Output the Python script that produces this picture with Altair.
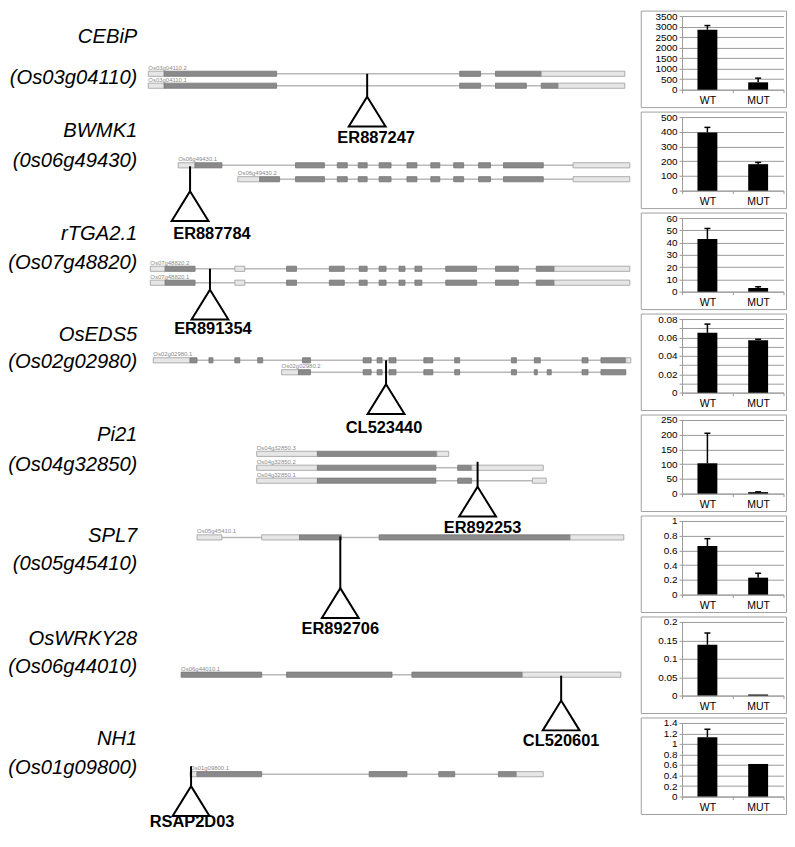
import altair as alt
import pandas as pd

FONT = "Liberation Sans"
GRID = "#9a9a9a"
BOX = "#a0a0a0"

# ---------------- gene names (left column) ----------------
gene_names = ["CEBiP", "BWMK1", "rTGA2.1", "OsEDS5", "Pi21", "SPL7", "OsWRKY28", "NH1"]
gene_loci = ["(Os03g04110)", "(0s06g49430)", "(Os07g48820)", "(Os02g02980)",
             "(Os04g32850)", "(0s05g45410)", "(Os06g44010)", "(Os01g09800)"]
name_y = [35, 130, 233, 335, 435, 537, 640, 741]
locus_y = [76, 160, 262, 362, 465, 565, 668, 770]
name_x = 137

# ---------------- transcripts (schematic gene models) ----------------
tx_label = ["Os03g04110.2", "Os03g04110.1",
            "Os06g49430.1", "Os06g49430.2",
            "Os07g48820.2", "Os07g48820.1",
            "Os02g02980.1", "Os02g02980.2",
            "Os04g32850.3", "Os04g32850.2", "Os04g32850.1",
            "Os05g45410.1",
            "Os06g44010.1",
            "Os01g09800.1"]
tx_y = [72, 84, 164, 178, 268, 282, 360, 372, 454, 468, 481, 538, 676, 776]
tx_start = [148, 148, 178, 238, 150, 150, 153, 282, 257, 257, 257, 197, 181, 190]
tx_end = [627, 627, 632, 632, 632, 632, 633, 628, 450, 545, 548, 626, 623, 545]

# exon segments per transcript: (start, end, kind)
tx_segments = [
    [(148, 164, "UTR"), (164, 277, "CDS"), (461, 482, "CDS"), (497, 543, "CDS"), (543, 627, "UTR")],
    [(148, 164, "UTR"), (164, 277, "CDS"), (461, 482, "CDS"), (497, 528, "CDS"), (543, 560, "CDS"), (560, 627, "UTR")],
    [(178, 195, "UTR"), (195, 222, "CDS"), (296, 325, "CDS"), (338, 348, "CDS"), (359, 368, "CDS"),
     (380, 392, "CDS"), (408, 418, "CDS"), (432, 441, "CDS"), (455, 465, "CDS"), (480, 492, "CDS"),
     (505, 545, "CDS"), (575, 632, "UTR")],
    [(238, 260, "UTR"), (260, 280, "CDS"), (296, 325, "CDS"), (338, 348, "CDS"), (359, 368, "CDS"),
     (380, 392, "CDS"), (408, 418, "CDS"), (432, 441, "CDS"), (455, 465, "CDS"), (480, 492, "CDS"),
     (505, 545, "CDS"), (575, 632, "UTR")],
    [(150, 165, "UTR"), (165, 195, "CDS"), (235, 245, "UTR"), (287, 297, "CDS"), (330, 345, "CDS"),
     (360, 368, "CDS"), (380, 387, "CDS"), (400, 406, "CDS"), (416, 423, "CDS"), (447, 478, "CDS"),
     (497, 520, "CDS"), (538, 556, "CDS"), (556, 632, "UTR")],
    [(150, 165, "UTR"), (165, 195, "CDS"), (235, 245, "UTR"), (287, 297, "CDS"), (330, 345, "CDS"),
     (360, 368, "CDS"), (380, 387, "CDS"), (400, 406, "CDS"), (416, 423, "CDS"), (447, 478, "CDS"),
     (497, 520, "CDS"), (538, 556, "CDS"), (556, 632, "UTR")],
    [(153, 190, "UTR"), (190, 197, "CDS"), (209, 213, "CDS"), (235, 240, "CDS"), (258, 263, "CDS"),
     (303, 311, "CDS"), (364, 372, "CDS"), (378, 383, "CDS"), (390, 397, "CDS"), (425, 434, "CDS"),
     (456, 461, "CDS"), (513, 518, "CDS"), (536, 542, "CDS"), (584, 590, "CDS"), (603, 628, "CDS"),
     (628, 633, "UTR")],
    [(282, 299, "UTR"), (299, 311, "CDS"), (364, 372, "CDS"), (378, 383, "CDS"), (390, 397, "CDS"),
     (425, 434, "CDS"), (456, 461, "CDS"), (513, 518, "CDS"), (536, 539, "CDS"), (549, 553, "CDS"),
     (584, 590, "CDS"), (603, 628, "CDS")],
    [(257, 318, "UTR"), (318, 438, "CDS"), (438, 450, "UTR")],
    [(257, 318, "UTR"), (318, 437, "CDS"), (459, 473, "CDS"), (473, 545, "UTR")],
    [(257, 318, "UTR"), (318, 437, "CDS"), (459, 473, "CDS"), (534, 548, "UTR")],
    [(197, 222, "UTR"), (262, 300, "UTR"), (300, 342, "CDS"), (380, 572, "CDS"), (572, 626, "UTR")],
    [(181, 262, "CDS"), (287, 393, "CDS"), (413, 524, "CDS"), (524, 623, "UTR")],
    [(190, 197, "UTR"), (197, 262, "CDS"), (370, 408, "CDS"), (440, 456, "CDS"), (500, 518, "CDS"),
     (518, 545, "UTR")],
]

# ---------------- insertion sites ----------------
ins_label = ["ER887247", "ER887784", "ER891354", "CL523440", "ER892253", "ER892706", "CL520601", "RSAP2D03"]
ins_x = [368, 190, 210, 387, 479, 341, 563, 191]
ins_top = [72, 165, 268, 360, 462, 537, 677, 768]
ins_apex = [95, 190, 289, 384, 487, 589, 702, 788]
lab_x = [377, 212, 213, 385, 484, 341, 563, 192]
lab_y = [137, 233, 329, 428, 529, 630, 743, 824]

# ---------------- expression bar charts (right column) ----------------
groups = ["WT", "MUT"]
wt_mean = [2850, 395, 43, 0.065, 103, 0.66, 0.138, 1.13]
wt_err = [200, 35, 8.5, 0.0095, 102, 0.10, 0.032, 0.15]
mut_mean = [350, 180, 3, 0.057, 5, 0.23, 0.003, 0.62]
mut_err = [200, 12, 1, 0.001, 1, 0.06, 0, 0]
y_ticks = [
    [0, 500, 1000, 1500, 2000, 2500, 3000, 3500],
    [0, 100, 200, 300, 400, 500],
    [0, 10, 20, 30, 40, 50, 60],
    [0, 0.01, 0.02, 0.03, 0.04, 0.05, 0.06, 0.07, 0.08],
    [0, 50, 100, 150, 200, 250],
    [0, 0.2, 0.4, 0.6, 0.8, 1],
    [0, 0.05, 0.1, 0.15, 0.2],
    [0, 0.2, 0.4, 0.6, 0.8, 1, 1.2, 1.4],
]

# ================= left panel =================
LW, LH = 630, 812
XD = [8, 8 + LW]
YD = [14, 14 + LH]


def X(f):
    return alt.X(f, type="quantitative", scale=alt.Scale(domain=XD, nice=False, zero=False, padding=0), axis=None)


def Y(f):
    return alt.Y(f, type="quantitative",
                 scale=alt.Scale(domain=YD, nice=False, zero=False, reverse=True, padding=0), axis=None)


names_df = pd.DataFrame({
    "x": [name_x] * 16,
    "y": name_y + locus_y,
    "t": gene_names + gene_loci,
})
tx_df = pd.DataFrame({"label": tx_label, "y": tx_y, "s": tx_start, "e": tx_end})
seg_rows = []
for i, segs in enumerate(tx_segments):
    for s, e, k in segs:
        seg_rows.append({"y": tx_y[i], "s": s, "e": e, "kind": k})
seg_df = pd.DataFrame(seg_rows)
ins_df = pd.DataFrame({"label": ins_label, "x": ins_x, "top": ins_top, "apex": ins_apex,
                       "lx": lab_x, "ly": lab_y})

introns = alt.Chart(tx_df).mark_rule(color="#b8b8b8", strokeWidth=1.5).encode(
    x=X("s"), x2="e", y=Y("y"))
exons = alt.Chart(seg_df).transform_calculate(
    y0="datum.y - 2.6", y1="datum.y + 2.6"
).mark_rect(strokeWidth=0.8).encode(
    x=X("s"), x2="e", y=Y("y0"), y2="y1",
    fill=alt.Fill("kind:N", scale=alt.Scale(domain=["UTR", "CDS"], range=["#e6e6e6", "#8a8a8a"]), legend=None),
    stroke=alt.Stroke("kind:N", scale=alt.Scale(domain=["UTR", "CDS"], range=["#9c9c9c", "#777777"]), legend=None),
)
tx_labels = alt.Chart(tx_df).mark_text(align="left", baseline="bottom", fontSize=6, color="#8a8a8a",
                                       dy=-3, font=FONT).encode(x=X("s"), y=Y("y"), text="label:N")
stems = alt.Chart(ins_df).mark_rule(color="black", strokeWidth=2).encode(x=X("x"), y=Y("top"), y2="apex")
TRI = "M0,0L1,1.62L-1,1.62Z"
tris = alt.Chart(ins_df).mark_point(shape=TRI, size=37 * 37, filled=False, color="black",
                                    strokeWidth=2, opacity=1).encode(x=X("x"), y=Y("apex"))
ins_text = alt.Chart(ins_df).mark_text(fontSize=16.5, fontWeight="bold", color="black", font=FONT,
                                       baseline="middle", align="center").encode(
    x=X("lx"), y=Y("ly"), text="label:N")
names = alt.Chart(names_df).mark_text(fontSize=20.3, fontStyle="italic", color="black", font=FONT,
                                      align="right", baseline="middle").encode(
    x=X("x"), y=Y("y"), text="t:N")

left = alt.layer(introns, exons, tx_labels, stems, tris, ins_text, names).properties(width=LW, height=LH)


# ================= right panels =================
def bar_panel(i):
    df = pd.DataFrame({
        "group": groups,
        "mean": [wt_mean[i], mut_mean[i]],
        "err": [wt_err[i], mut_err[i]],
    })
    df["top"] = df["mean"] + df["err"]
    xenc = alt.X("group:N", sort=groups, title=None,
                 scale=alt.Scale(paddingInner=0, paddingOuter=0),
                 axis=alt.Axis(labelAngle=0, tickBand="extent", domainColor=GRID, tickColor=GRID,
                               tickSize=3, labelFontSize=10.5, labelColor="black", labelPadding=3,
                               grid=False, labelFont=FONT))
    yax = alt.Axis(values=y_ticks[i], labelExpr="'' + datum.value", grid=True, gridColor=GRID,
                   domainColor=GRID, tickColor=GRID, tickSize=3, labelFontSize=10, labelPadding=2,
                   labelColor="black", labelFont=FONT, title=None)
    ysc = alt.Scale(domain=[0, y_ticks[i][-1]], nice=False)
    box = alt.Chart(pd.DataFrame({"k": [0]})).mark_rect(fill="white", fillOpacity=0, stroke=BOX,
                                                          strokeWidth=1).encode(
        x=alt.value(-41), x2=alt.value(105), y=alt.value(-5), y2=alt.value(92))
    bars = alt.Chart(df).mark_bar(color="black", size=20).encode(
        x=xenc, y=alt.Y("mean:Q", scale=ysc, axis=yax))
    errs = alt.Chart(df).transform_filter("datum.err > 0").mark_rule(color="black", strokeWidth=1.5).encode(
        x=xenc, y=alt.Y("mean:Q", scale=ysc, axis=yax), y2="top:Q")
    caps = alt.Chart(df).transform_filter("datum.err > 0").mark_tick(color="black", thickness=1.5,
                                                                       size=6, opacity=1).encode(
        x=xenc, y=alt.Y("top:Q", scale=ysc, axis=yax))
    return alt.layer(box, bars, errs, caps).properties(width=102, height=74)


right = alt.vconcat(*[bar_panel(i) for i in range(8)], spacing=2.5)

chart = (
    alt.concat(left, right, columns=2, align="none", spacing=4.5)
    .properties(padding=0)
    .configure(font=FONT)
    .configure_view(stroke="transparent", strokeWidth=0)
)

chart.save("out.html", embed_options={"renderer": "svg", "actions": False})
